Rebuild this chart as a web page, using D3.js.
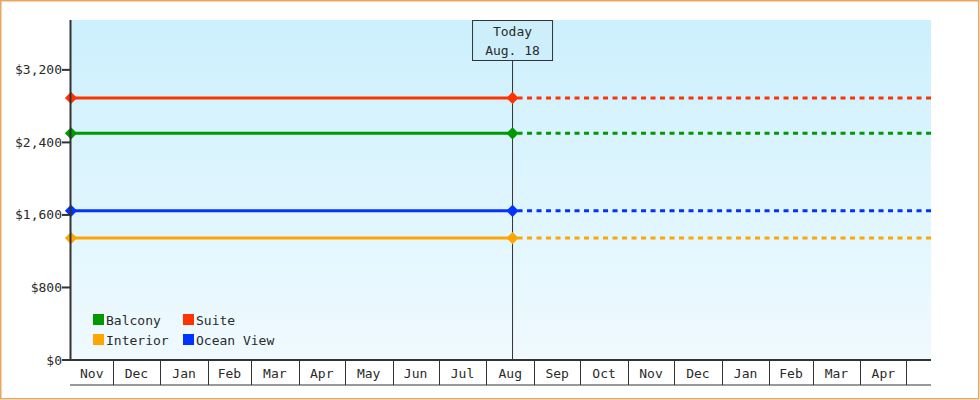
<!DOCTYPE html>
<html><head><meta charset="utf-8">
<script src="https://cdn.jsdelivr.net/npm/d3@7"></script>
<style>
html,body{margin:0;padding:0;background:#fff;}
svg{display:block;}
text{font-family:"DejaVu Sans Mono","Liberation Mono",monospace;font-size:13px;fill:#2a2a2a;}
</style></head>
<body>
<script>
// ---- data ----
const seriesNames = ["Balcony", "Suite", "Interior", "Ocean View"];
const seriesValues = [2500, 2890, 1345, 1645];
const seriesColors = ["#009900", "#ff3300", "#ffa500", "#0033ff"];
const yTickValues = [0, 800, 1600, 2400, 3200];
const monthLabels = ["Nov","Dec","Jan","Feb","Mar","Apr","May","Jun","Jul","Aug","Sep","Oct","Nov","Dec","Jan","Feb","Mar","Apr","May"];
const startDate = "2012-11-04";
const endDate = "2014-05-17";
const todayDate = "2013-08-18";
const todayLabel = ["Today", "Aug. 18"];
const yMax = 3750;

// ---- layout ----
const W = 980, H = 400;
const m = {left: 71, right: 49, top: 20, bottom: 40};
const pw = W - m.left - m.right, ph = H - m.top - m.bottom;
const parse = d3.utcParse("%Y-%m-%d");

const svg = d3.select("body").append("svg").attr("width", W).attr("height", H);
svg.append("rect").attr("x",0.75).attr("y",0.75).attr("width",W-2).attr("height",H-2)
  .attr("fill","#fff").attr("stroke","#e8a760").attr("stroke-width",1.5);

const defs = svg.append("defs");
const grad = defs.append("linearGradient").attr("id","bg").attr("x1",0).attr("y1",0).attr("x2",0).attr("y2",1);
grad.append("stop").attr("offset","0%").attr("stop-color","#ccf0fd");
grad.append("stop").attr("offset","100%").attr("stop-color","#f0faff");

const x = d3.scaleUtc().domain([parse(startDate), parse(endDate)]).range([m.left, m.left + pw]);
const y = d3.scaleLinear().domain([0, yMax]).range([m.top + ph, m.top]);

svg.append("rect").attr("x", m.left).attr("y", m.top).attr("width", pw).attr("height", ph).attr("fill","url(#bg)");

// today marker
const tx = x(parse(todayDate));
svg.append("line").attr("x1", tx).attr("x2", tx).attr("y1", m.top + 40).attr("y2", m.top + ph)
  .attr("stroke","#333").attr("stroke-width",1);
svg.append("rect").attr("x", tx - 40).attr("y", m.top + 0.5).attr("width", 80).attr("height", 40)
  .attr("fill","#cdeffc").attr("stroke","#333").attr("stroke-width",1);
svg.append("text").attr("x", tx).attr("y", m.top + 16).attr("text-anchor","middle").text(todayLabel[0]);
svg.append("text").attr("x", tx).attr("y", m.top + 35).attr("text-anchor","middle").text(todayLabel[1]);

// series lines
seriesNames.forEach((name, i) => {
  const v = seriesValues[i], c = seriesColors[i];
  const g = svg.append("g");
  g.append("line").attr("x1", x.range()[0]).attr("x2", tx).attr("y1", y(v)).attr("y2", y(v))
    .attr("stroke", c).attr("stroke-width", 3);
  g.append("line").attr("x1", tx + 5).attr("x2", x.range()[1]).attr("y1", y(v)).attr("y2", y(v))
    .attr("stroke", c).attr("stroke-width", 3).attr("stroke-dasharray","5,4.5");
  [x.range()[0], tx].forEach(px => {
    g.append("path").attr("d", d3.symbol(d3.symbolDiamond2, 95)())
      .attr("transform", `translate(${px},${y(v)})`).attr("fill", c);
  });
});

// y axis
svg.append("line").attr("x1", m.left - 0.5).attr("x2", m.left - 0.5).attr("y1", m.top).attr("y2", m.top + ph + 1)
  .attr("stroke","#333").attr("stroke-width",2);
const yg = svg.append("g");
yTickValues.forEach(v => {
  yg.append("line").attr("x1", m.left - 9).attr("x2", m.left).attr("y1", y(v)).attr("y2", y(v))
    .attr("stroke","#333").attr("stroke-width",2);
  yg.append("text").attr("x", m.left - 9).attr("y", y(v)).attr("dy","0.35em").attr("text-anchor","end")
    .text("$" + d3.format(",")(v));
});

// x axis band
const x0 = m.left, x1 = m.left + pw, yb = m.top + ph, yb2 = yb + 25;
svg.append("line").attr("x1", x0 - 1).attr("x2", x1).attr("y1", yb).attr("y2", yb).attr("stroke","#333").attr("stroke-width",2);
svg.append("line").attr("x1", x0 - 1).attr("x2", x1).attr("y1", yb2).attr("y2", yb2).attr("stroke","#333").attr("stroke-width",1);
const months = d3.utcMonth.range(d3.utcMonth.floor(parse(startDate)), parse(endDate));
months.forEach((mo, i) => {
  const a = Math.max(x(mo), x0), b = Math.min(x(d3.utcMonth.offset(mo, 1)), x1);
  if (i > 0) svg.append("line").attr("x1", Math.round(a) + 0.5).attr("x2", Math.round(a) + 0.5)
    .attr("y1", yb).attr("y2", yb2).attr("stroke","#333").attr("stroke-width",1);
  if (b - a > 30) svg.append("text").attr("x", (a + b) / 2).attr("y", yb + 13).attr("dy","0.35em")
    .attr("text-anchor","middle").text(monthLabels[i]);
});

// legend
const lg = svg.append("g").attr("transform","translate(93,314)");
seriesNames.forEach((name, i) => {
  const col = i % 2, row = Math.floor(i / 2);
  const gx = col * 90, gy = row * 20;
  lg.append("rect").attr("x", gx).attr("y", gy).attr("width", 11).attr("height", 11).attr("fill", seriesColors[i]);
  lg.append("text").attr("x", gx + 13).attr("y", gy + 6).attr("dy","0.35em").text(name);
});
</script>
</body></html>
